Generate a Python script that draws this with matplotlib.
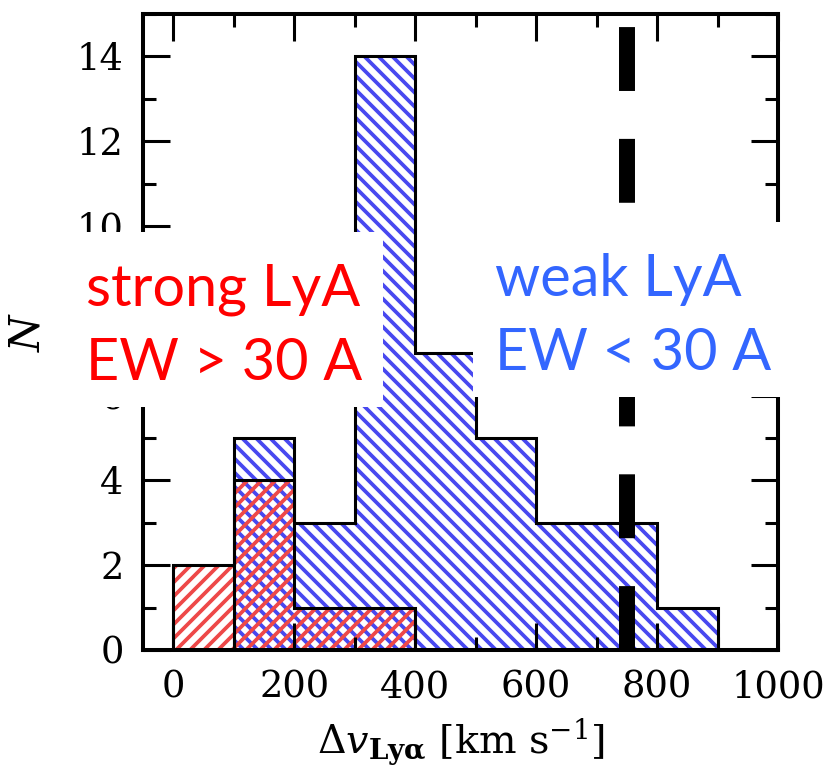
import numpy as np
import matplotlib
matplotlib.use("Agg")
import matplotlib.pyplot as plt
from matplotlib.patches import Rectangle
from matplotlib.ticker import MultipleLocator

# ---- data ----
bin_edges = [0, 100, 200, 300, 400, 500, 600, 700, 800, 900]
weak_counts = [0, 5, 3, 14, 7, 5, 3, 3, 1]
strong_edges = [0, 100, 200, 300, 400]
strong_counts = [2, 4, 1, 1]
vline_x = 750
vline_top = 14.7
xlabel = r'$\Delta v_{\mathbf{Ly\alpha}}$ [km s$^{-1}$]'
ylabel = r'$N$'
strong_lines = ["strong LyA", "EW > 30 A"]
weak_lines = ["weak LyA", "EW < 30 A"]

DPI = 84
k = 100 / DPI  # sizes below are tuned for 100 dpi

plt.rcParams['mathtext.fontset'] = 'dejavuserif'
plt.rcParams['hatch.linewidth'] = 2.7 * k

W, H = 832, 772
fig = plt.figure(figsize=(W / DPI, H / DPI), dpi=DPI)
ax = fig.add_axes([143 / W, 1 - 650 / H, (778 - 143) / W, (650 - 14) / H])

blue = '#4848f0'
red = '#ee4848'

# weak (blue) histogram: hatch layer + outline
ax.stairs(weak_counts, bin_edges, fill=True, facecolor='white', edgecolor=blue,
          hatch='\\\\', linewidth=0, zorder=1)
ax.stairs(weak_counts, bin_edges, fill=False, edgecolor='black', linewidth=2.2 * k, zorder=1.2)
# strong (red) histogram
ax.stairs(strong_counts, strong_edges, fill=True, facecolor='none', edgecolor=red,
          hatch='//', linewidth=0, zorder=1.1)
ax.stairs(strong_counts, strong_edges, fill=False, edgecolor='black', linewidth=2.2 * k, zorder=1.3)

ax.plot([vline_x, vline_x], [0, vline_top], color='black', lw=11.5 * k,
        linestyle=(0, (4, 3)), dash_capstyle='butt', zorder=3)

ax.set_xlim(-50, 1000)
ax.set_ylim(0, 15)
ax.xaxis.set_major_locator(MultipleLocator(200))
ax.xaxis.set_minor_locator(MultipleLocator(100))
ax.yaxis.set_major_locator(MultipleLocator(2))
ax.yaxis.set_minor_locator(MultipleLocator(1))
ax.tick_params(which='both', direction='in', top=True, right=True, width=2.2 * k,
               labelsize=26.5 * k, labelfontfamily='DejaVu Serif')
ax.tick_params(which='major', length=19.5 * k, pad=14 * k)
ax.tick_params(which='minor', length=9.5 * k)
for s in ax.spines.values():
    s.set_linewidth(2.9 * k)

ax.set_xlabel(xlabel, fontsize=28.5 * k, family='DejaVu Serif', labelpad=8 * k)
ax.set_ylabel(ylabel, fontsize=30 * k, labelpad=20 * k)

# white overlay boxes with text
fig.add_artist(Rectangle((77 / W, 1 - 407 / H), (383 - 77) / W, (407 - 232) / H,
                         transform=fig.transFigure, facecolor='white', edgecolor='none', zorder=10))
fig.add_artist(Rectangle((473 / W, 1 - 397 / H), (782 - 473) / W, (397 - 222) / H,
                         transform=fig.transFigure, facecolor='white', edgecolor='none', zorder=10))

tfont = dict(family='Lato', fontsize=41.5 * k, zorder=11, va='baseline', ha='left')
fig.text(86 / W, 1 - 305 / H, strong_lines[0], color='#ff0000', **tfont)
fig.text(86 / W, 1 - 380 / H, strong_lines[1], color='#ff0000', **tfont)
fig.text(495 / W, 1 - 296 / H, weak_lines[0], color='#3366ff', **tfont)
fig.text(495 / W, 1 - 370 / H, weak_lines[1], color='#3366ff', **tfont)

fig.savefig('out.png', dpi=DPI)
